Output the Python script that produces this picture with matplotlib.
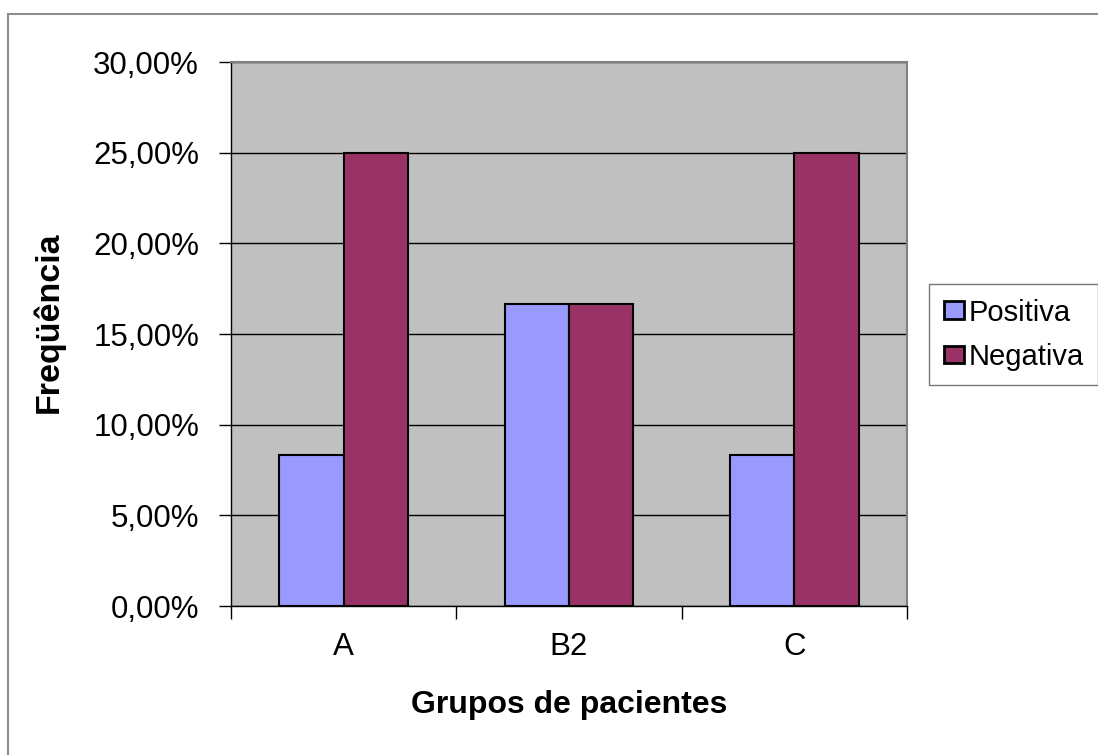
import numpy as np
import matplotlib.pyplot as plt
from matplotlib.patches import Rectangle
from matplotlib.ticker import FuncFormatter, MultipleLocator

grupos = ["A", "B2", "C"]
positiva = [8.33, 16.67, 8.33]
negativa = [25.0, 16.67, 25.0]

plt.rcParams['font.family'] = ['Liberation Sans', 'DejaVu Sans']

W, H = 1098, 755
fig = plt.figure(figsize=(W / 100, H / 100), dpi=100)

# moldura do grafico
fig.patches.append(Rectangle((8 / W, -0.1), 1.2, (H - 14) / H + 0.1,
                             transform=fig.transFigure, fill=False,
                             edgecolor="#8c8c8c", linewidth=1.5))

left, right, top, bottom = 231, 907, 62, 606
ax = fig.add_axes([left / W, 1 - bottom / H, (right - left) / W, (bottom - top) / H])
ax.set_facecolor("#c0c0c0")

x = np.arange(len(grupos))
w = 1 / 3.5
ax.bar(x - w / 2, positiva, w, color="#9999ff", edgecolor="black", linewidth=1.5,
       label="Positiva", zorder=3)
ax.bar(x + w / 2, negativa, w, color="#993366", edgecolor="black", linewidth=1.5,
       label="Negativa", zorder=3)

ax.set_xlim(-0.5, 2.5)
ax.set_ylim(0, 30)
ax.yaxis.set_major_locator(MultipleLocator(5))
ax.yaxis.set_major_formatter(FuncFormatter(lambda v, p: f"{v:.2f}%".replace(".", ",")))
ax.yaxis.grid(True, color="black", linewidth=1)
ax.set_axisbelow(True)

ax.set_xticks([-0.5, 0.5, 1.5, 2.5])
ax.set_xticklabels([])
ax.set_xticks(x, minor=True)
ax.set_xticklabels(grupos, minor=True)
ax.tick_params(axis="x", which="minor", length=0, pad=19, labelsize=22.5)
ax.tick_params(axis="x", which="major", length=9, width=1)
ax.tick_params(axis="y", length=9, width=1, pad=14, labelsize=22.5)

for s in ["top", "right"]:
    ax.spines[s].set_color("#808080")
    ax.spines[s].set_linewidth(1.5)
ax.spines["left"].set_linewidth(1)
ax.spines["bottom"].set_linewidth(1)

ax.set_xlabel("Grupos de pacientes", fontsize=23, fontweight="bold", labelpad=20)
ax.set_ylabel("Freqüência", fontsize=24.5, fontweight="bold")
ax.yaxis.set_label_coords(-0.2456, 0.522)

leg = fig.legend(loc="upper left", bbox_to_anchor=(929 / W, 1 - 284 / H),
                 fontsize=21, frameon=True, fancybox=False, edgecolor="#555555",
                 handlelength=0.7, handleheight=0.55, handletextpad=0.15,
                 borderpad=0.5, labelspacing=0.55, borderaxespad=0)
leg.get_frame().set_linewidth(1)
for h in leg.legend_handles:
    h.set_linewidth(2)

fig.savefig("out.png", dpi=100)
